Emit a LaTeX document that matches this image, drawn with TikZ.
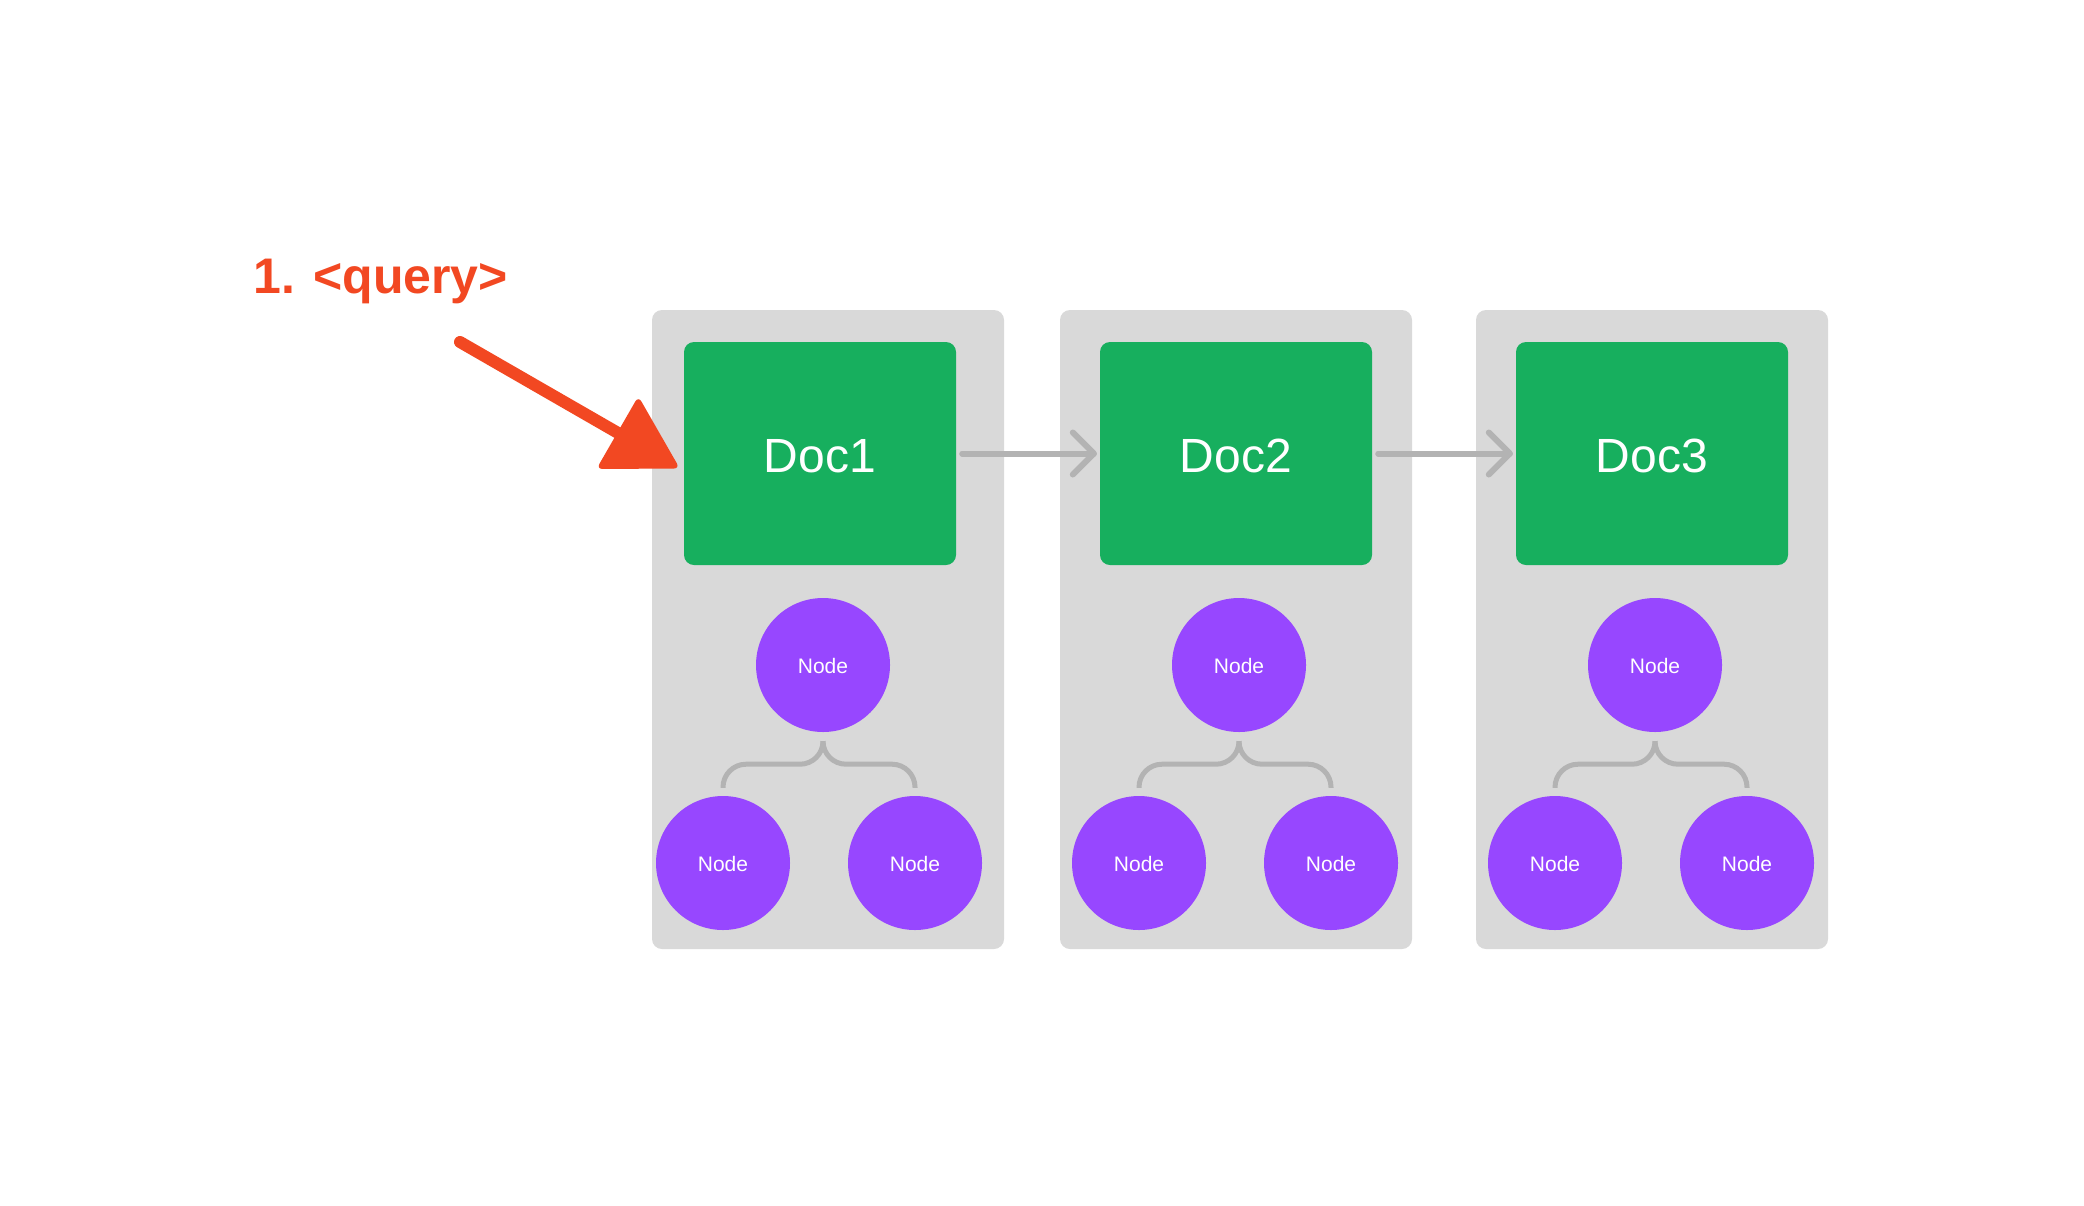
\documentclass[tikz,border=0pt]{standalone}
\usepackage{fontspec}
\setmainfont{Liberation Sans}
\usetikzlibrary{calc}
\definecolor{panelgray}{HTML}{D9D9D9}
\definecolor{docgreen}{HTML}{17AF5E}
\definecolor{nodepurple}{HTML}{9747FF}
\definecolor{linkgray}{HTML}{B3B3B3}
\definecolor{queryred}{HTML}{F24822}
\begin{document}
\begin{tikzpicture}[x=1pt,y=-1pt,
  panel/.style={fill=panelgray, rounded corners=10pt, minimum width=352pt, minimum height=639pt, inner sep=0pt},
  docbox/.style={fill=docgreen, rounded corners=10pt, minimum width=272pt, minimum height=223pt, inner sep=0pt, text=white, text height=38pt, text depth=0pt, font=\fontsize{48}{58}\selectfont},
  treenode/.style={circle, fill=nodepurple, minimum size=134pt, inner sep=0pt, text=white, text height=17.5pt, text depth=0pt, font=\fontsize{21}{25}\selectfont},
  bracelink/.style={draw=linkgray, line width=5pt, rounded corners=23pt},
  flow/.style={draw=linkgray, line width=6pt, line cap=round, line join=round},
  querytext/.style={anchor=base west, inner sep=0pt, text=queryred, font=\bfseries\fontsize{50}{60}\selectfont}
]
\useasboundingbox (0,0) rectangle (2084,1205);
\fill[white] (0,0) rectangle (2084,1205);
\foreach \i/\cx/\pl in {1/820/652, 2/1236/1060, 3/1652/1476} {
  \node[panel] (p\i) at (\pl+176, 629.5) {};
  \node[docbox] (d\i) at (\cx, 453.5) {Doc\i};
  \node[treenode] (t\i) at (\cx+3, 665) {Node};
  \node[treenode] (l\i) at (\cx-97, 863) {Node};
  \node[treenode] (r\i) at (\cx+95, 863) {Node};
  \coordinate (h\i) at ([yshift=-32pt]t\i.south);
  \draw[bracelink] ([yshift=8pt]l\i.north) -- (l\i |- h\i) -- (t\i |- h\i) -- ([yshift=-9pt]t\i.south);
  \draw[bracelink] ([yshift=-9pt]t\i.south) -- (t\i |- h\i) -- (r\i |- h\i) -- ([yshift=8pt]r\i.north);
}
\foreach \a/\b in {1/2, 2/3} {
  \draw[flow] ([xshift=6pt]d\a.east) -- ([xshift=-6pt]d\b.west);
  \draw[flow] ([xshift=-27pt,yshift=21pt]d\b.west) -- ([xshift=-6pt]d\b.west) -- ([xshift=-27pt,yshift=-21pt]d\b.west);
}
% query arrow
\node[querytext] (q) at (253,293) {1. <query>};
\coordinate (qs) at (460,342);
\coordinate (qt) at ([xshift=-4pt,yshift=-15pt]d1.west);
\coordinate (qb) at ($(qt)!72pt!(qs)$);
\coordinate (qb1) at ($(qb)!42pt!90:(qt)$);
\coordinate (qb2) at ($(qb)!42pt!-90:(qt)$);
\draw[queryred, line width=12pt, line cap=round] (qs) -- ($(qt)!60pt!(qs)$);
\fill[queryred, rounded corners=6pt] (qt) -- (qb1) -- (qb2) -- cycle;
\end{tikzpicture}
\end{document}
